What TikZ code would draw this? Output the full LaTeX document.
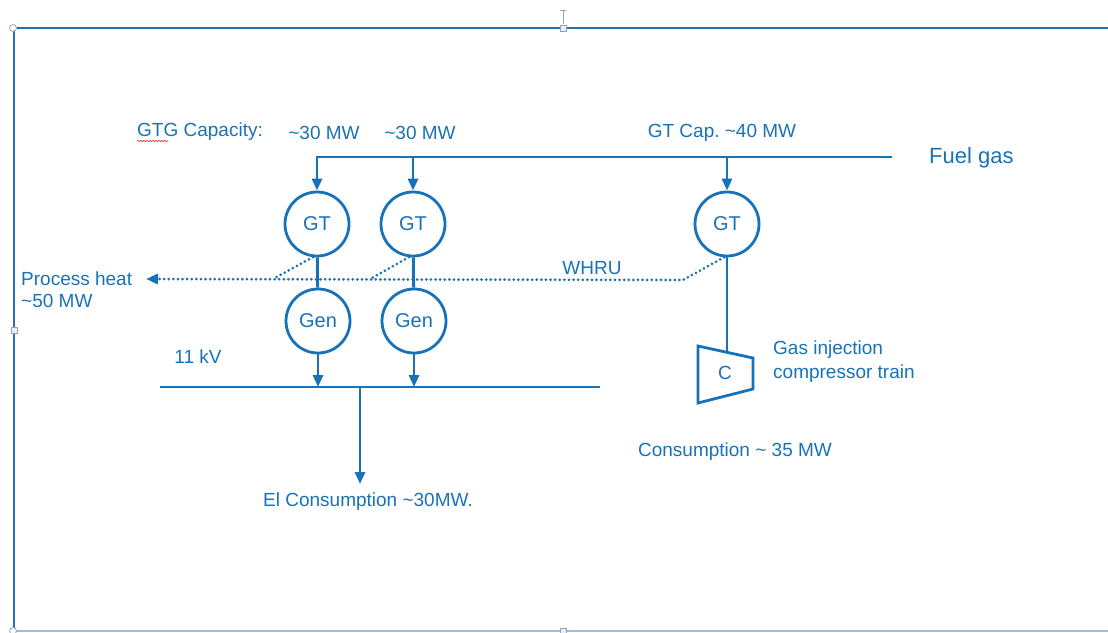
\documentclass[tikz,border=0pt]{standalone}
\usepackage{fontspec}
\setmainfont{Liberation Sans}
\usepackage{xcolor}
\usetikzlibrary{arrows.meta, positioning, calc, decorations.pathmorphing}
\definecolor{flow}{RGB}{24,114,184}
\definecolor{framec}{RGB}{40,112,178}
\definecolor{gripc}{RGB}{150,165,180}
\frenchspacing

\begin{document}
\begin{tikzpicture}[x=1pt, y=-1pt,
  lbl/.style={text=flow, font=\fontsize{19}{22}\selectfont, inner sep=0pt},
  unit/.style={circle, draw=flow, line width=2.8pt, minimum size=64pt,
               inner sep=0pt, text=flow, font=\fontsize{20}{22}\selectfont},
  feed/.style={draw=flow, line width=2.8pt, -{Triangle[length=12pt,width=10pt]}},
  shaft/.style={draw=flow, line width=2.8pt},
  heat/.style={draw=flow, line width=3pt, line cap=round,
               dash pattern=on 0pt off 4.6pt},
  grip/.style={draw=gripc, fill=blue!8, line width=0.8pt}]
  \useasboundingbox (0,0) rectangle (1108,632);

  % slide frame with selection handles
  \draw[framec, line width=2.6pt] (1108,28) -- (14,28) -- (14,632);
  \draw[framec!45, line width=1.8pt] (14,631) -- (1108,631);
  \draw[gripc, line width=0.8pt] (563,10) -- (563,24) (560,10) -- (566,10);
  \foreach \x/\y in {563/28, 14/330, 563/631}{
    \draw[grip] (\x-3,\y-3) rectangle (\x+3,\y+3);
  }
  \foreach \x/\y in {13/28, 13/631}{
    \draw[grip, fill=white] (\x,\y) circle (3.5);
  }

  % gas turbines and generators
  \node[unit] (gt1) at (317,224) {GT};
  \node[unit] (gt2) at (413,224) {GT};
  \node[unit] (gt3) at (727,224) {GT};
  \node[unit] (gen1) at (318,321) {Gen};
  \node[unit] (gen2) at (414,321) {Gen};

  % fuel gas header
  \coordinate (fuel w) at (317,157);
  \coordinate (fuel e) at (892,157);
  \draw[feed] (fuel e) -- (fuel w) -- (gt1.north);
  \foreach \u in {gt2, gt3}{
    \draw[feed] (\u.north |- fuel w) -- (\u.north);
  }
  \node[lbl, anchor=west, font=\fontsize{22}{24}\selectfont] (fuel) at (929,158) {Fuel gas};

  % capacity labels
  \node[lbl, anchor=west] (gtgcap) at (137,132) {GTG Capacity:};
  \draw[red!80, line width=0.6pt, decorate,
        decoration={snake, amplitude=0.8pt, segment length=3pt}] (137,141) -- (168,141);
  \node[lbl] (cap1) at (324,133) {\textasciitilde30 MW};
  \node[lbl] (cap2) at (420,133) {\textasciitilde30 MW};
  \node[lbl] (cap3) at (722,133) {GT Cap. \textasciitilde40 MW};

  % shafts
  \draw[shaft] (gt1) -- (gen1);
  \draw[shaft] (gt2) -- (gen2);
  \coordinate (comp top) at (727,352);
  \draw[shaft] (gt3) -- (comp top);

  % 11 kV bus
  \coordinate (bus w) at (160,387);
  \coordinate (bus e) at (600,387);
  \coordinate (tap) at (360,387);
  \coordinate (el) at (360,484);
  \draw[shaft] (bus w) -- (bus e);
  \foreach \g in {gen1, gen2}{
    \draw[feed] (\g) -- (\g |- bus w);
  }
  \draw[feed] (tap) -- (el);
  \node[lbl] (kv) at (198,357) {11 kV};
  \node[lbl] (elcons) at (368,502) {El Consumption \textasciitilde30MW.};

  % waste heat recovery
  \coordinate (w1) at (273,279);
  \coordinate (w2) at (370,279);
  \coordinate (w3) at (683,280);
  \coordinate (heat tip) at (146,279);
  \draw[heat, -{Triangle[length=12pt,width=10pt]}] (gt3.265) -- (w3) -- (heat tip);
  \draw[heat] (gt1.263) -- (w1);
  \draw[heat] (gt2.263) -- (w2);
  \node[lbl] (whru) at (592,268) {WHRU};
  \node[lbl, anchor=west, align=left] (proc) at (21,290) {Process heat\\\textasciitilde50 MW};

  % compressor train
  \draw[shaft, line join=miter] (698,346) -- (753,358) -- (753,389) -- (698,403) -- cycle;
  \node[lbl] (comp) at (725,373) {C};
  \node[lbl, anchor=west, align=left, font=\fontsize{19}{24}\selectfont] (gic) at (773,362)
    {Gas injection\\compressor train};
  \node[lbl] (cons) at (735,452) {Consumption \textasciitilde{} 35 MW};
\end{tikzpicture}
\end{document}
